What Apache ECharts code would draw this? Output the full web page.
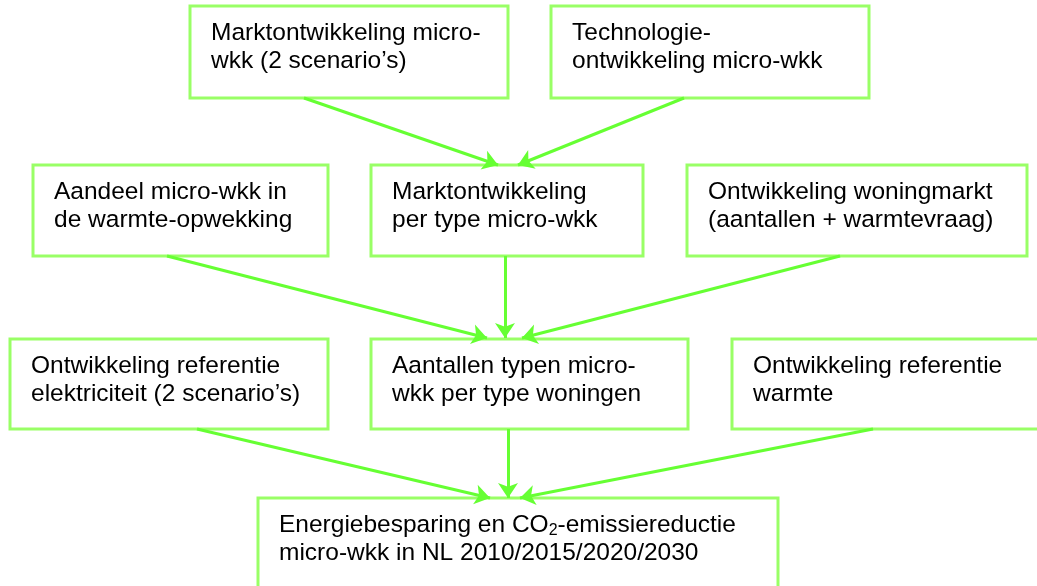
<!DOCTYPE html>
<html>
<head>
<meta charset="utf-8">
<title>micro-wkk schema</title>
<script src="https://cdn.jsdelivr.net/npm/echarts@6/dist/echarts.min.js"></script>
<style>
  html, body { margin: 0; padding: 0; background: #fff; }
  #main { width: 1037px; height: 586px; }
</style>
</head>
<body>
<div id="main"></div>
<script>
// box texts (row by row)
var boxLabels = [
  'Marktontwikkeling micro-\nwkk (2 scenario\u2019s)',
  'Technologie-\nontwikkeling micro-wkk',
  'Aandeel micro-wkk in\nde warmte-opwekking',
  'Marktontwikkeling\nper type micro-wkk',
  'Ontwikkeling woningmarkt\n(aantallen + warmtevraag)',
  'Ontwikkeling referentie\nelektriciteit (2 scenario\u2019s)',
  'Aantallen typen micro-\nwkk per type woningen',
  'Ontwikkeling referentie\nwarmte',
  'Energiebesparing en CO{sub|2}-emissiereductie\nmicro-wkk in NL 2010/2015/2020/2030'
];

// box corners in diagram units (0..1037 x 0..586)
var boxLeft   = [190, 551,  33, 371,  687,  10, 371,  732, 258];
var boxTop    = [  6,   6, 165, 165,  165, 339, 339,  339, 498];
var boxRight  = [508, 869, 328, 643, 1027, 328, 688, 1040, 778];
var boxBottom = [ 98,  98, 256, 256,  256, 429, 429,  429, 600];

// arrows: from -> to
var arrowFrom = [[304, 98], [684, 98], [167, 256], [505, 256], [840, 256], [197, 429], [508, 429], [873, 429]];
var arrowTo   = [[498, 165], [518, 165], [487, 338], [505, 338], [522, 338], [490, 498], [508, 498], [520, 498]];

var boxColor = '#99ff66';
var arrowColor = '#66ff33';

var myChart = echarts.init(document.getElementById('main'));

var boxData = [];
for (var i = 0; i < boxLabels.length; i++) {
  boxData.push([boxLeft[i], boxTop[i], boxRight[i], boxBottom[i]]);
}
var arrowData = [];
for (var j = 0; j < arrowFrom.length; j++) {
  arrowData.push({ coords: [arrowFrom[j], arrowTo[j]] });
}

var option = {
  backgroundColor: '#fff',
  animation: false,
  grid: { left: 0, right: 0, top: 0, bottom: 0 },
  xAxis: { type: 'value', min: 0, max: 1037, show: false },
  yAxis: { type: 'value', min: 0, max: 586, inverse: true, show: false },
  series: [
    {
      type: 'custom',
      coordinateSystem: 'cartesian2d',
      encode: { x: [0, 2], y: [1, 3] },
      data: boxData,
      renderItem: function (params, api) {
        var p0 = api.coord([api.value(0), api.value(1)]);
        var p1 = api.coord([api.value(2), api.value(3)]);
        return {
          type: 'group',
          children: [
            {
              type: 'rect',
              shape: { x: p0[0], y: p0[1], width: p1[0] - p0[0], height: p1[1] - p0[1] },
              style: { fill: '#fff', stroke: boxColor, lineWidth: 3 }
            },
            {
              type: 'text',
              x: p0[0] + 21,
              y: p0[1] + 13,
              style: {
                text: boxLabels[params.dataIndex],
                fill: '#000',
                fontFamily: 'Liberation Sans',
                fontSize: 24.5,
                lineHeight: 28,
                align: 'left',
                verticalAlign: 'top',
                rich: {
                  sub: { fontFamily: 'Liberation Sans', fontSize: 16, fill: '#000', verticalAlign: 'bottom', lineHeight: 10 }
                }
              }
            }
          ]
        };
      }
    },
    {
      type: 'lines',
      coordinateSystem: 'cartesian2d',
      symbol: ['none', 'arrow'],
      symbolSize: [12, 15],
      symbolOffset: [0, 7.5],
      lineStyle: { color: arrowColor, width: 3, opacity: 1 },
      data: arrowData
    }
  ]
};

myChart.setOption(option);
</script>
</body>
</html>
